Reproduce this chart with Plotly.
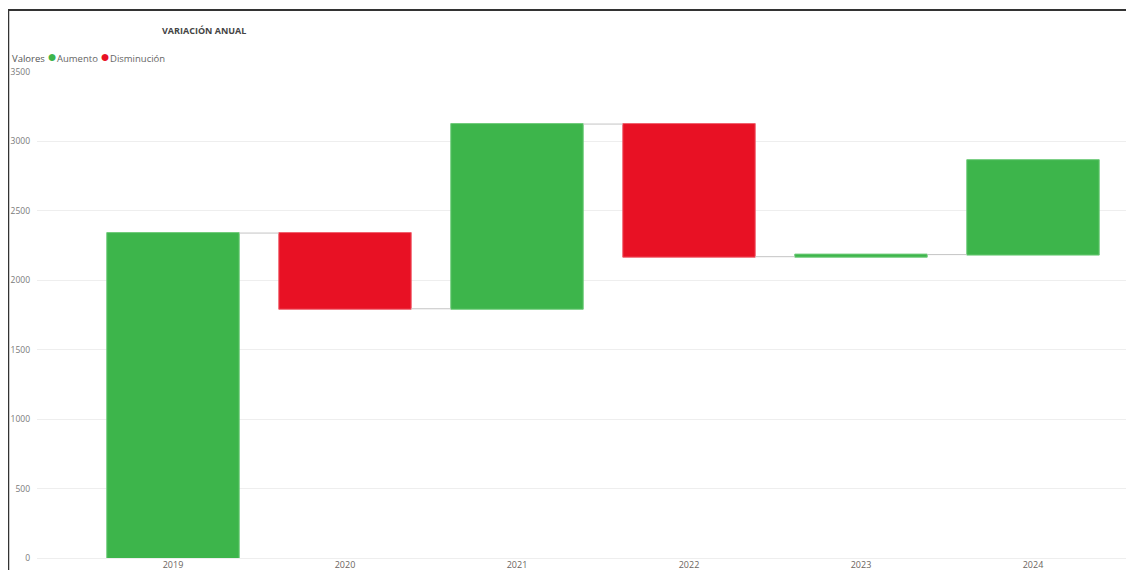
import plotly.graph_objects as go

# Variación anual (waterfall)
years = ["2019", "2020", "2021", "2022", "2023", "2024"]
changes = [2340, -545, 1330, -955, 15, 680]
y_ticks = [0, 500, 1000, 1500, 2000, 2500, 3000, 3500]

green = "#3DB54B"
red = "#E81124"
font_family = "Open Sans, Noto Sans, sans-serif"

# the page body adds an 8px offset, so work in screen pixels and subtract it
OFF = 8
W, H = 1134 - OFF, 570 - OFF
ml, mr, mt, mb = 37 - OFF, 0, 72 - OFF, 12
pw, ph = W - ml - mr, H - mt - mb


def px(x):
    return (x - OFF - ml) / pw


def py(y):
    return (H - mb - (y - OFF)) / ph


fig = go.Figure()

fig.add_trace(go.Waterfall(
    x=years,
    y=changes,
    measure=["relative"] * len(years),
    increasing=dict(marker=dict(color=green, line=dict(color="#6FCB7A", width=1))),
    decreasing=dict(marker=dict(color=red, line=dict(color="#F0606C", width=1))),
    connector=dict(mode="between", line=dict(color="#C4C4C4", width=1)),
    width=0.77,
    showlegend=False,
    hoverinfo="skip",
))

fig.update_layout(
    width=W, height=H,
    margin=dict(l=ml, r=mr, t=mt, b=mb),
    plot_bgcolor="white",
    paper_bgcolor="white",
    font=dict(family=font_family, size=9, color="#777777"),
    showlegend=False,
    annotations=[
        dict(
            text="<b>VARIACIÓN ANUAL</b>",
            xref="paper", yref="paper", x=px(204), y=py(30),
            xanchor="center", yanchor="middle", showarrow=False,
            font=dict(size=9, color="#444444", family=font_family),
        ),
        dict(
            text=("<span style='color:#555555'>Valores</span> "
                  f"<span style='color:{green};font-size:16px'>●</span>"
                  "<span style='color:#666666'>Aumento</span> "
                  f"<span style='color:{red};font-size:16px'>●</span>"
                  "<span style='color:#666666'>Disminución</span>"),
            xref="paper", yref="paper", x=px(10), y=py(55.5),
            xanchor="left", yanchor="middle", showarrow=False,
            font=dict(size=9.5, family=font_family),
        ),
    ],
    shapes=[
        dict(type="line", xref="paper", yref="paper",
             x0=px(OFF), x1=px(1140), y0=py(10), y1=py(10),
             line=dict(color="#333333", width=2)),
        dict(type="line", xref="paper", yref="paper",
             x0=px(OFF + 0.5), x1=px(OFF + 0.5), y0=py(10), y1=py(580),
             line=dict(color="#333333", width=1.5)),
    ],
)

# category centres sit 172px apart, first one at screen x=173
step = 172.0
fig.update_xaxes(
    type="category",
    range=[-(173 - 37) / step, (1134 - 173) / step],
    showgrid=False, zeroline=False, showline=False,
    ticks="", tickfont=dict(size=9, color="#6B6560"),
)
fig.update_yaxes(
    range=[0, 3500],
    tickvals=y_ticks,
    showgrid=True, gridcolor="#EEEEEE", gridwidth=1,
    zeroline=True, zerolinecolor="#EEEEEE", zerolinewidth=1,
    showline=False, ticks="", ticklabelstandoff=6,
    tickfont=dict(size=8.5, color="#7A7A7A"),
)

fig.write_html("out.html")
